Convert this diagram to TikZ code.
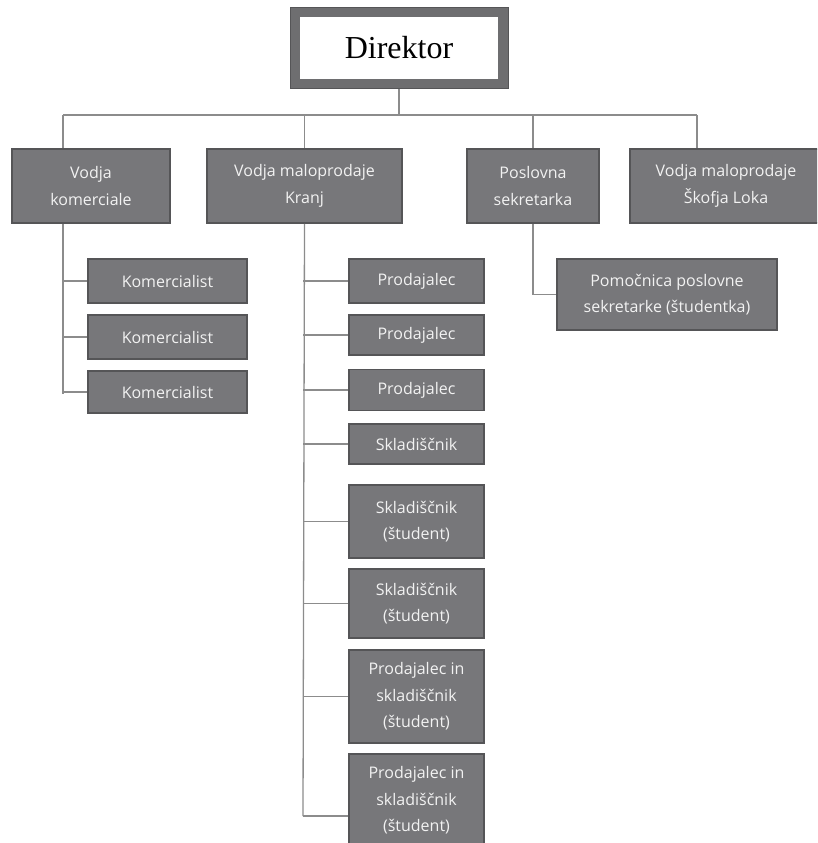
\documentclass[tikz,border=0pt]{standalone}
\usepackage{fontspec}
\setmainfont{Liberation Serif}
\setsansfont{Open Sans}
\definecolor{boxfill}{HTML}{77777A}
\definecolor{boxedge}{HTML}{555557}
\definecolor{boxtext}{HTML}{F2F2F2}
\definecolor{linkgray}{HTML}{8C8C8C}
\definecolor{dirgray}{HTML}{6E6E70}
\begin{document}
\begin{tikzpicture}[x=1pt,y=-1pt,
    post/.style={draw=boxedge,fill=boxfill,text=boxtext,line width=1.5pt,align=center,inner sep=0pt,
      font=\sffamily\fontsize{16}{26.5}\selectfont},
    link/.style={draw=linkgray,line width=1.3pt}]
    \clip (0,0) rectangle (817,843);
    \fill[white] (0,0) rectangle (817,843);
    % director
    \node[draw=dirgray,line width=10pt,fill=white,minimum width=208pt,minimum height=71pt,
      font=\fontsize{32}{36}\selectfont] (dir) at (399,48) {Direktor};
    \draw[boxedge,line width=1pt] (dir.north west) rectangle (dir.south east);
    % second level
    \node[post,minimum width=158pt,minimum height=74pt] (kom) at (91,186) {Vodja\\komerciale};
    \node[post,minimum width=195pt,minimum height=74pt] (kranj) at (304.5,186) {Vodja maloprodaje\\Kranj};
    \node[post,minimum width=132pt,minimum height=74pt] (posl) at (533,186) {Poslovna\\sekretarka};
    \node[post,minimum width=192pt,minimum height=74pt] (loka) at (726,186) {Vodja maloprodaje\\Škofja Loka};
    \node[post,minimum width=220pt,minimum height=71pt] (pomoc) at (667,294.5) {Pomočnica poslovne\\sekretarke (študentka)};
    % komerciala
    \node[post,minimum width=159pt,minimum height=44pt] (kom1) at (167.5,281) {Komercialist};
    \node[post,minimum width=159pt,minimum height=44pt] (kom2) at (167.5,337) {Komercialist};
    \node[post,minimum width=159pt,minimum height=42pt] (kom3) at (167.5,392) {Komercialist};
    % maloprodaja Kranj
    \node[post,minimum width=135pt,minimum height=44pt] (prod1) at (416.5,281) {Prodajalec};
    \node[post,minimum width=135pt,minimum height=40pt] (prod2) at (416.5,335) {Prodajalec};
    \node[post,minimum width=135pt,minimum height=41pt] (prod3) at (416.5,390) {Prodajalec};
    \node[post,minimum width=135pt,minimum height=40pt] (skl1) at (416.5,444) {Skladiščnik};
    \node[post,minimum width=135pt,minimum height=73pt] (skl2) at (416.5,521.5) {Skladiščnik\\(študent)};
    \node[post,minimum width=135pt,minimum height=69pt] (skl3) at (416.5,603.5) {Skladiščnik\\(študent)};
    \node[post,minimum width=135pt,minimum height=93pt] (ps1) at (416.5,696.5) {Prodajalec in\\skladiščnik\\(študent)};
    \node[post,minimum width=135pt,minimum height=93pt] (ps2) at (416.5,800.5) {Prodajalec in\\skladiščnik\\(študent)};
    % connectors
    \coordinate (busL) at (63,115);
    \coordinate (busR) at (697,115);
    \coordinate (komdown) at (63,394);
    \coordinate (kranjdown) at (303,816);
    \draw[link] (dir.south) -- (dir.south |- busL);
    \draw[link] (busL) -- (busR);
    \draw[link] (busL) -- (busL |- kom.north);
    \draw[link] (kranj.north |- busL) -- (kranj.north);
    \draw[link] (posl.north |- busL) -- (posl.north);
    \draw[link] (busR) -- (busR |- loka.north);
    \draw[link] (posl.south) |- (pomoc.west);
    \draw[link] (komdown |- kom.south) -- (komdown);
    \foreach \k in {kom1,kom2,kom3}
        \draw[link] (\k.west -| komdown) -- (\k.west);
    \draw[link] (kranj.south) -- (kranjdown);
    \foreach \k in {prod1,prod2,prod3,skl1,skl2,skl3,ps1}
        \draw[link] (\k.west -| kranjdown) -- (\k.west);
    \draw[link] (kranjdown) -- (kranjdown -| ps2.west);
\end{tikzpicture}
\end{document}
